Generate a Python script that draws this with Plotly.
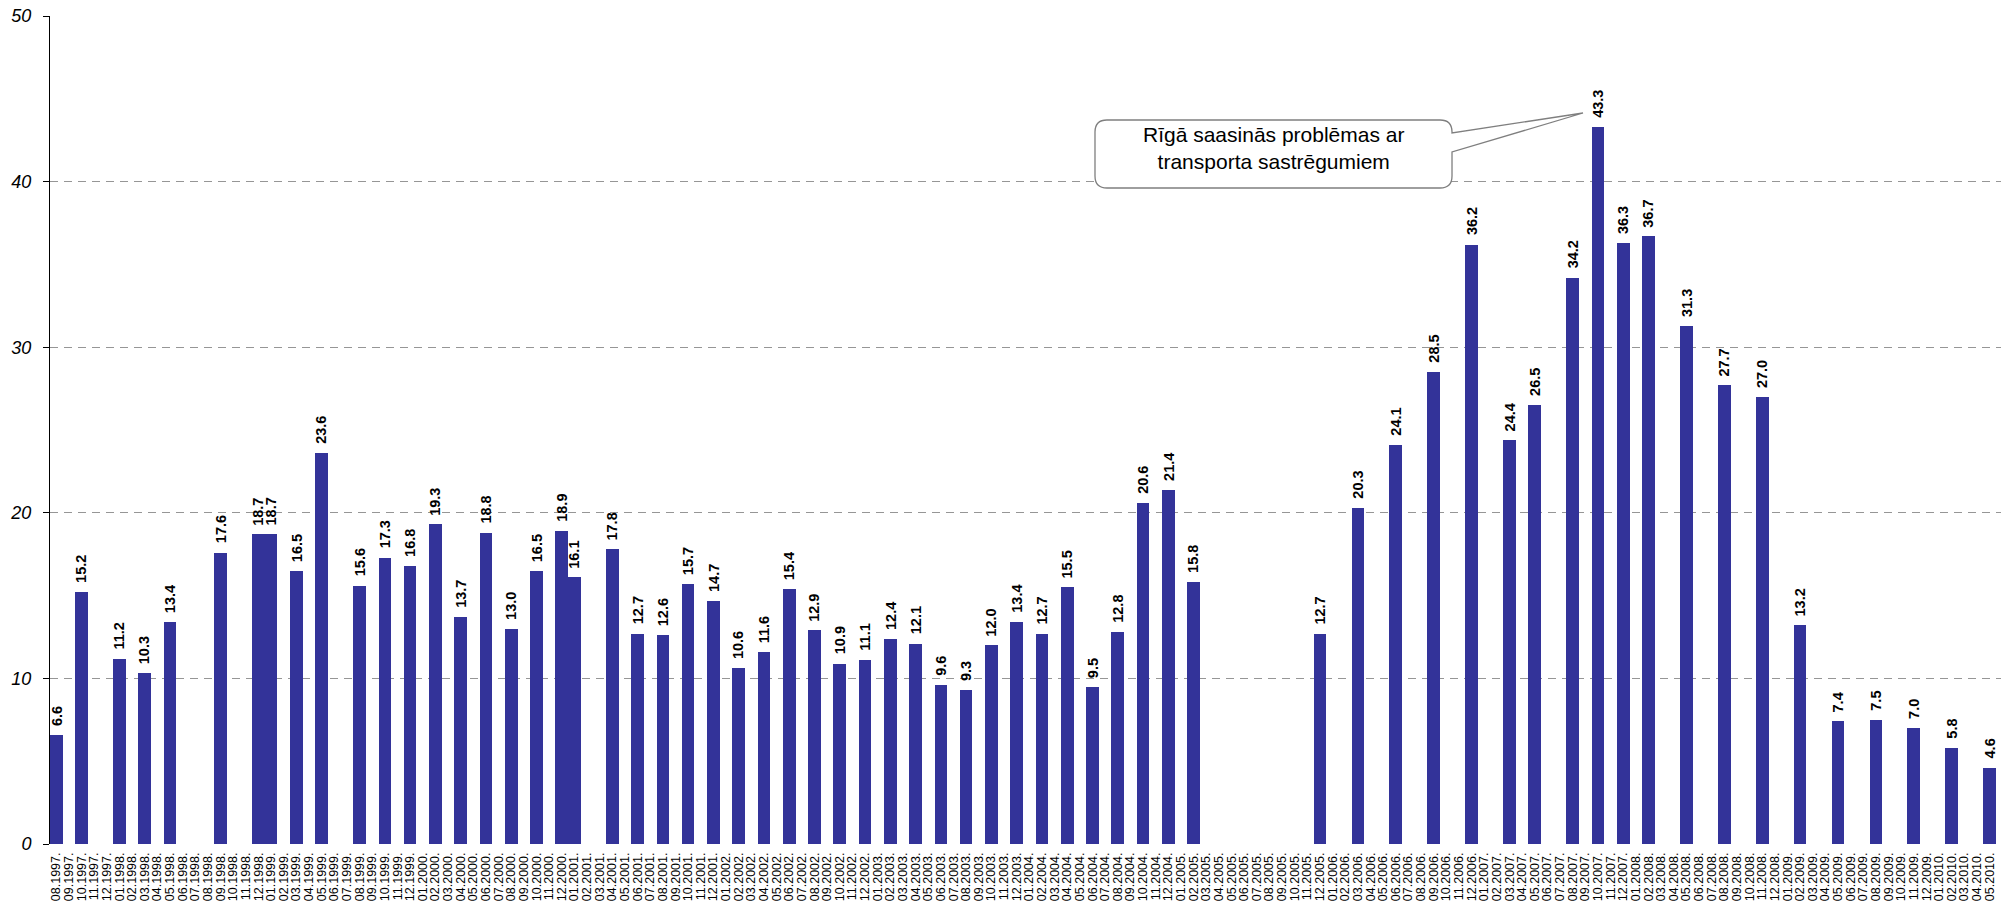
import plotly.graph_objects as go

# ---- data -------------------------------------------------------------
start_year, start_month = 1997, 8
end_year, end_month = 2010, 5
months = []
y, m = start_year, start_month
while (y, m) <= (end_year, end_month):
    months.append(f"{m:02d}.{y}.")
    m += 1
    if m > 12:
        m = 1
        y += 1

bar_months = ["08.1997.", "10.1997.", "01.1998.", "03.1998.", "05.1998.", "09.1998.",
              "12.1998.", "01.1999.", "03.1999.", "05.1999.", "08.1999.", "10.1999.",
              "12.1999.", "02.2000.", "04.2000.", "06.2000.", "08.2000.", "10.2000.",
              "12.2000.", "01.2001.", "04.2001.", "06.2001.", "08.2001.", "10.2001.",
              "12.2001.", "02.2002.", "04.2002.", "06.2002.", "08.2002.", "10.2002.",
              "12.2002.", "02.2003.", "04.2003.", "06.2003.", "08.2003.", "10.2003.",
              "12.2003.", "02.2004.", "04.2004.", "06.2004.", "08.2004.", "10.2004.",
              "12.2004.", "02.2005.", "12.2005.", "03.2006.", "06.2006.", "09.2006.",
              "12.2006.", "03.2007.", "05.2007.", "08.2007.", "10.2007.", "12.2007.",
              "02.2008.", "05.2008.", "08.2008.", "11.2008.", "02.2009.", "05.2009.",
              "08.2009.", "11.2009.", "02.2010.", "05.2010."]
bar_values = [6.6, 15.2, 11.2, 10.3, 13.4, 17.6,
              18.7, 18.7, 16.5, 23.6, 15.6, 17.3,
              16.8, 19.3, 13.7, 18.8, 13.0, 16.5,
              18.9, 16.1, 17.8, 12.7, 12.6, 15.7,
              14.7, 10.6, 11.6, 15.4, 12.9, 10.9,
              11.1, 12.4, 12.1, 9.6, 9.3, 12.0,
              13.4, 12.7, 15.5, 9.5, 12.8, 20.6,
              21.4, 15.8, 12.7, 20.3, 24.1, 28.5,
              36.2, 24.4, 26.5, 34.2, 43.3, 36.3,
              36.7, 31.3, 27.7, 27.0, 13.2, 7.4,
              7.5, 7.0, 5.8, 4.6]

y_ticks = [0, 10, 20, 30, 40, 50]
callout_text = "Rīgā saasinās problēmas ar<br>transporta sastrēgumiem"

lookup = dict(zip(bar_months, bar_values))
series = [lookup.get(mo) for mo in months]

# ---- layout geometry -----------------------------------------------------
W, H = 2009, 904
ML, MR, MT, MB = 50, 8, 16, 60
PW, PH = W - ML - MR, H - MT - MB

def px(xp):
    return (xp - ML) / PW

def py(yp):
    return (H - MB - yp) / PH

BAR_COLOR = "#333399"
FONT = "Liberation Sans, Arial, sans-serif"

fig = go.Figure()
fig.add_trace(go.Bar(
    x=months, y=series, marker=dict(color=BAR_COLOR, line=dict(width=0)),
    width=1.0, hoverinfo="x+y", showlegend=False,
))

annotations = []
for mo, v in zip(bar_months, bar_values):
    annotations.append(dict(
        x=mo, y=v, xref="x", yref="y", text=f"<b>{v:.1f}</b>",
        showarrow=False, textangle=-90, yanchor="bottom", xanchor="center",
        yshift=7, font=dict(family=FONT, size=14.5, color="black"),
    ))

# callout box (pixel geometry converted to paper coordinates)
L, R, T, B, r = 1095, 1452, 120, 188, 12
tip = (1583, 113)
pts = [
    ("M", L + r, T), ("L", R - r, T), ("Q", R, T, R, T + r), ("L", R, 133),
    ("L", tip[0], tip[1]), ("L", R, 152), ("L", R, B - r), ("Q", R, B, R - r, B),
    ("L", L + r, B), ("Q", L, B, L, B - r), ("L", L, T + r), ("Q", L, T, L + r, T),
]
path = ""
for p in pts:
    cmd = p[0]
    coords = p[1:]
    s = []
    for i in range(0, len(coords), 2):
        s.append(f"{px(coords[i]):.5f},{py(coords[i+1]):.5f}")
    path += cmd + " ".join(s) + " "
path += "Z"

shapes = [dict(type="path", xref="paper", yref="paper", path=path,
               fillcolor="white", line=dict(color="#7f7f7f", width=1.3), layer="above")]

annotations.append(dict(
    x=px((L + R) / 2), y=py(148), xref="paper", yref="paper", text=callout_text,
    showarrow=False, xanchor="center", yanchor="middle", align="center",
    font=dict(family=FONT, size=21, color="black"),
))

fig.update_layout(
    width=W, height=H,
    margin=dict(l=ML, r=MR, t=MT, b=MB, pad=0, autoexpand=False),
    plot_bgcolor="white", paper_bgcolor="white",
    bargap=0,
    annotations=annotations, shapes=shapes,
    font=dict(family=FONT, color="black"),
)
fig.update_xaxes(
    type="category", range=[-0.5, len(months) - 0.1], tickmode="linear", tick0=0, dtick=1,
    tickangle=-90, tickfont=dict(family=FONT, size=12.5, color="black"),
    showgrid=False, zeroline=False, showline=False, ticks="",
    ticklabelstandoff=5, automargin=False,
)
fig.update_yaxes(
    range=[0, 50], tickvals=y_ticks, showgrid=True, gridcolor="#969696", gridwidth=1,
    griddash="8px,6px", zeroline=False, showline=True, linecolor="black", linewidth=1,
    ticks="outside", ticklen=6, tickcolor="black",
    tickfont=dict(family=FONT, size=18, color="black", style="italic"),
    ticklabelstandoff=8, automargin=False,
)

fig.write_html(
    "out.html",
    config={"displayModeBar": False},
    post_script="document.body.style.margin='0';document.body.style.overflow='hidden';",
)
